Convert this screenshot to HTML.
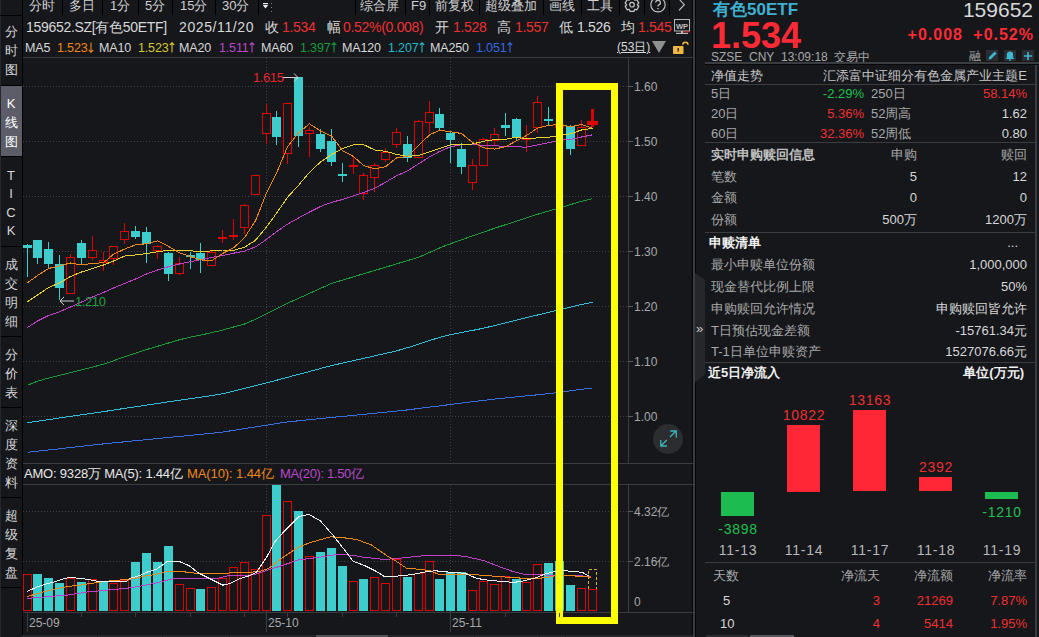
<!DOCTYPE html>
<html><head><meta charset="utf-8">
<style>
*{margin:0;padding:0;box-sizing:border-box}
html,body{width:1039px;height:637px;overflow:hidden;background:#15171b;font-family:"Liberation Sans",sans-serif;color:#d8d8d8}
.a{position:absolute;white-space:nowrap;line-height:1}
.hl{position:absolute;height:1px}
.vl{position:absolute;width:1px}
.t12{font-size:12px}.il{font-size:14px;letter-spacing:-0.3px}.ml{font-size:12.5px;letter-spacing:-0.15px}.tb{font-size:13px;color:#d0d0d0}.t13{font-size:13px}
.r{color:#f03030}
.g{color:#a8a8a8}
.sb{position:absolute;left:0;width:22px;text-align:center;font-size:13px;color:#d8d8d8;line-height:19px}
.rp{position:absolute;font-size:13px;line-height:1;white-space:nowrap}
</style></head><body>
<!-- top-left corner -->
<div class="a" style="left:0;top:0;width:1px;height:637px;background:#25272c"></div>
<div class="hl" style="left:0;top:15px;width:22px;background:#000"></div>
<div class="vl" style="left:22px;top:0;height:637px;background:#000"></div>
<!-- toolbar -->
<div class="a tb" style="left:29px;top:-1px">分时</div>
<div class="vl" style="left:62px;top:0;height:15px;background:#000"></div>
<div class="a tb" style="left:69px;top:-1px">多日</div>
<div class="vl" style="left:102px;top:0;height:15px;background:#000"></div>
<div class="a tb" style="left:110px;top:-1px">1分</div>
<div class="vl" style="left:138px;top:0;height:15px;background:#000"></div>
<div class="a tb" style="left:145px;top:-1px">5分</div>
<div class="vl" style="left:172px;top:0;height:15px;background:#000"></div>
<div class="a tb" style="left:180px;top:-1px">15分</div>
<div class="vl" style="left:215px;top:0;height:15px;background:#000"></div>
<div class="a tb" style="left:222px;top:-1px">30分</div>
<div class="vl" style="left:258px;top:0;height:15px;background:#000"></div>
<svg class="a" style="left:262px;top:0" width="12" height="14"><rect x="1" y="3" width="5" height="1.2" fill="#f0f0f0"/><path d="M0.8,5 H6.2 L3.5,8.5 Z" fill="#f0f0f0"/><rect x="9" y="3" width="1" height="1" fill="#808080"/><rect x="9" y="7" width="1" height="1" fill="#808080"/><rect x="9" y="11" width="1" height="1" fill="#808080"/></svg>
<div class="vl" style="left:355px;top:0;height:15px;background:#000"></div>
<div class="a tb" style="left:360px;top:-1px">综合屏</div>
<div class="vl" style="left:405px;top:0;height:15px;background:#000"></div>
<div class="a tb" style="left:411px;top:-1px">F9</div>
<div class="vl" style="left:429px;top:0;height:15px;background:#000"></div>
<div class="a tb" style="left:435px;top:-1px">前复权</div>
<div class="vl" style="left:479px;top:0;height:15px;background:#000"></div>
<div class="a tb" style="left:485px;top:-1px">超级叠加</div>
<div class="vl" style="left:543px;top:0;height:15px;background:#000"></div>
<div class="a tb" style="left:549px;top:-1px">画线</div>
<div class="vl" style="left:581px;top:0;height:15px;background:#000"></div>
<div class="a tb" style="left:587px;top:-1px">工具</div>
<div class="vl" style="left:619px;top:0;height:15px;background:#000"></div>
<svg class="a" style="left:624px;top:-1px" width="16" height="16"><path d="M5.37,1.10 L5.93,-0.99 L10.07,-0.99 L10.63,1.10 L10.67,1.12 L12.76,0.56 L14.83,4.15 L13.30,5.68 L13.30,5.72 L14.83,7.25 L12.76,10.84 L10.67,10.28 L10.63,10.30 L10.07,12.39 L5.93,12.39 L5.37,10.30 L5.33,10.28 L3.24,10.84 L1.17,7.25 L2.70,5.72 L2.70,5.68 L1.17,4.15 L3.24,0.56 L5.33,1.12 Z" fill="none" stroke="#c8c8c8" stroke-width="1.2" stroke-linejoin="round"/><circle cx="8" cy="5.7" r="2.3" fill="none" stroke="#c8c8c8" stroke-width="1.2"/></svg>
<div class="vl" style="left:644px;top:0;height:15px;background:#000"></div>
<svg class="a" style="left:649px;top:-3px" width="18" height="18"><circle cx="9" cy="7.7" r="7.2" fill="none" stroke="#c8c8c8" stroke-width="1.1"/><path d="M6.6,5.6 A2.4,2.4 0 1 1 9.6,8 Q9,8.4 9,9.6" fill="none" stroke="#c8c8c8" stroke-width="1.2"/><rect x="8.4" y="11" width="1.3" height="1.3" fill="#c8c8c8"/></svg>
<div class="vl" style="left:669px;top:0;height:15px;background:#000"></div>
<svg class="a" style="left:676px;top:-2px" width="12" height="14"><polyline points="3,1 8.3,6.7 3,12.3" fill="none" stroke="#c8c8c8" stroke-width="1.1"/></svg>
<div class="vl" style="left:692px;top:0;height:637px;background:#050607;width:1px"></div><div class="vl" style="left:693px;top:0;height:637px;background:#3a3c40;width:2px"></div>
<div class="vl" style="left:695px;top:0;height:637px;background:#050607;width:1px"></div>

<!-- sidebar -->
<div class="sb" style="top:22px">分<br>时<br>图</div>
<div class="hl" style="left:1px;top:85px;width:21px;background:#000"></div>
<div class="a" style="left:1px;top:86px;width:21px;height:70px;background:#5c5d68"></div>
<div class="sb" style="top:94px;color:#fff">K<br>线<br>图</div>
<div class="hl" style="left:1px;top:156px;width:21px;background:#000"></div>
<div class="sb" style="top:167px;line-height:18.3px">T<br>I<br>C<br>K</div>
<div class="hl" style="left:1px;top:246px;width:21px;background:#000"></div>
<div class="sb" style="top:255px">成<br>交<br>明<br>细</div>
<div class="hl" style="left:1px;top:336px;width:21px;background:#000"></div>
<div class="sb" style="top:345px">分<br>价<br>表</div>
<div class="hl" style="left:1px;top:407px;width:21px;background:#000"></div>
<div class="sb" style="top:416px">深<br>度<br>资<br>料</div>
<div class="hl" style="left:1px;top:497px;width:21px;background:#000"></div>
<div class="sb" style="top:506px">超<br>级<br>复<br>盘</div>
<div class="hl" style="left:1px;top:587px;width:21px;background:#000"></div>

<!-- info line -->
<div class="a il" style="left:26px;top:20px">159652.SZ[有色50ETF]</div>
<div class="a il" style="left:179px;top:20px;letter-spacing:0.6px">2025/11/20</div>
<div class="a il" style="left:265px;top:20px">收</div><div class="a il r" style="left:282px;top:20px">1.534</div>
<div class="a il" style="left:327px;top:20px">幅</div><div class="a il r" style="left:343px;top:20px">0.52%(0.008)</div>
<div class="a il" style="left:435px;top:20px">开</div><div class="a il r" style="left:453px;top:20px">1.528</div>
<div class="a il" style="left:497px;top:20px">高</div><div class="a il r" style="left:515px;top:20px">1.557</div>
<div class="a il" style="left:559px;top:20px">低</div><div class="a il" style="left:577px;top:20px">1.526</div>
<div class="a il" style="left:621px;top:20px">均</div><div class="a il r" style="left:638px;top:20px">1.545</div>
<!-- WP icon -->
<svg class="a" style="left:673px;top:18px" width="18" height="17"><rect x="1.5" y="1.5" width="15" height="11.5" fill="#15171b" stroke="#b8b8b8" stroke-width="1"/><text x="9" y="10.5" font-size="7.5" font-weight="bold" fill="#c0c0c0" text-anchor="middle" font-family="Liberation Sans">WP</text><rect x="8" y="13" width="2" height="2" fill="#b8b8b8"/><rect x="3" y="14.8" width="12" height="1.2" fill="#b8b8b8"/><rect x="10.5" y="13.2" width="6" height="1.2" fill="#e02020" opacity="0.8"/></svg>
<!-- MA line -->
<div class="a ml" style="left:25px;top:42px">MA5</div>
<div class="a ml" style="left:57px;top:42px;color:#f08818">1.523<svg width="6" height="11" style="display:inline-block;vertical-align:-1px;margin-left:0px"><path d="M3,0.5 V10 M0.8,8 L3,10.3 L5.2,8" stroke="currentColor" stroke-width="1.1" fill="none"/></svg></div>
<div class="a ml" style="left:99px;top:42px">MA10</div>
<div class="a ml" style="left:138px;top:42px;color:#d8c830">1.523<svg width="6" height="11" style="display:inline-block;vertical-align:-1px;margin-left:0px"><path d="M3,10.5 V1 M0.8,3 L3,0.7 L5.2,3" stroke="currentColor" stroke-width="1.1" fill="none"/></svg></div>
<div class="a ml" style="left:179px;top:42px">MA20</div>
<div class="a ml" style="left:219px;top:42px;color:#b848c8">1.511<svg width="6" height="11" style="display:inline-block;vertical-align:-1px;margin-left:0px"><path d="M3,10.5 V1 M0.8,3 L3,0.7 L5.2,3" stroke="currentColor" stroke-width="1.1" fill="none"/></svg></div>
<div class="a ml" style="left:261px;top:42px">MA60</div>
<div class="a ml" style="left:300px;top:42px;color:#1a9a3a">1.397<svg width="6" height="11" style="display:inline-block;vertical-align:-1px;margin-left:0px"><path d="M3,10.5 V1 M0.8,3 L3,0.7 L5.2,3" stroke="currentColor" stroke-width="1.1" fill="none"/></svg></div>
<div class="a ml" style="left:342px;top:42px">MA120</div>
<div class="a ml" style="left:388px;top:42px;color:#28b8c8">1.207<svg width="6" height="11" style="display:inline-block;vertical-align:-1px;margin-left:0px"><path d="M3,10.5 V1 M0.8,3 L3,0.7 L5.2,3" stroke="currentColor" stroke-width="1.1" fill="none"/></svg></div>
<div class="a ml" style="left:430px;top:42px">MA250</div>
<div class="a ml" style="left:476px;top:42px;color:#3868e0">1.051<svg width="6" height="11" style="display:inline-block;vertical-align:-1px;margin-left:0px"><path d="M3,10.5 V1 M0.8,3 L3,0.7 L5.2,3" stroke="currentColor" stroke-width="1.1" fill="none"/></svg></div>
<div class="a t12" style="left:617px;top:41px;color:#d8d8d8;text-decoration:underline">(53日)</div>
<div class="a" style="left:652px;top:41px;width:0;height:0;border-left:7px solid transparent;border-right:7px solid transparent;border-top:12px solid #909090"></div>
<svg class="a" style="left:672px;top:40px" width="18" height="16"><rect x="1" y="6" width="10.5" height="8" rx="0.8" fill="#f0b840"/><rect x="5.5" y="8" width="1.5" height="3.5" fill="#3a3020"/><path d="M10.8,4.8 A2.6,2.6 0 0 1 16,4.8" fill="none" stroke="#f0b840" stroke-width="1.5"/></svg>

<!-- chart frame lines -->
<div class="hl" style="left:23px;top:57px;width:670px;background:#3a3c40"></div>
<div class="vl" style="left:628px;top:57px;height:406px;background:#3a3c40"></div><div class="vl" style="left:628px;top:484px;height:129px;background:#3a3c40"></div>
<div class="hl" style="left:23px;top:463px;width:670px;background:#3a3c40"></div>
<div class="hl" style="left:23px;top:484px;width:670px;background:#3a3c40"></div>
<div class="hl" style="left:23px;top:612px;width:670px;background:#3a3c40"></div>

<svg width="1039" height="637" style="position:absolute;left:0;top:0"><line x1="23" y1="86.5" x2="628" y2="86.5" stroke="#404246" stroke-width="1" stroke-dasharray="1,2"/><line x1="628" y1="86.5" x2="633" y2="86.5" stroke="#5a5c60" stroke-width="1"/><line x1="23" y1="141.5" x2="628" y2="141.5" stroke="#404246" stroke-width="1" stroke-dasharray="1,2"/><line x1="628" y1="141.5" x2="633" y2="141.5" stroke="#5a5c60" stroke-width="1"/><line x1="23" y1="196.5" x2="628" y2="196.5" stroke="#404246" stroke-width="1" stroke-dasharray="1,2"/><line x1="628" y1="196.5" x2="633" y2="196.5" stroke="#5a5c60" stroke-width="1"/><line x1="23" y1="251.5" x2="628" y2="251.5" stroke="#404246" stroke-width="1" stroke-dasharray="1,2"/><line x1="628" y1="251.5" x2="633" y2="251.5" stroke="#5a5c60" stroke-width="1"/><line x1="23" y1="306.5" x2="628" y2="306.5" stroke="#404246" stroke-width="1" stroke-dasharray="1,2"/><line x1="628" y1="306.5" x2="633" y2="306.5" stroke="#5a5c60" stroke-width="1"/><line x1="23" y1="361.5" x2="628" y2="361.5" stroke="#404246" stroke-width="1" stroke-dasharray="1,2"/><line x1="628" y1="361.5" x2="633" y2="361.5" stroke="#5a5c60" stroke-width="1"/><line x1="23" y1="416.5" x2="628" y2="416.5" stroke="#404246" stroke-width="1" stroke-dasharray="1,2"/><line x1="628" y1="416.5" x2="633" y2="416.5" stroke="#5a5c60" stroke-width="1"/><line x1="266.5" y1="58" x2="266.5" y2="463" stroke="#404246" stroke-width="1" stroke-dasharray="1,2"/><line x1="266.5" y1="485" x2="266.5" y2="612" stroke="#404246" stroke-width="1" stroke-dasharray="1,2"/><line x1="450.5" y1="58" x2="450.5" y2="463" stroke="#404246" stroke-width="1" stroke-dasharray="1,2"/><line x1="450.5" y1="485" x2="450.5" y2="612" stroke="#404246" stroke-width="1" stroke-dasharray="1,2"/><line x1="23" y1="511.5" x2="628" y2="511.5" stroke="#404246" stroke-width="1" stroke-dasharray="1,2"/><line x1="628" y1="511.5" x2="633" y2="511.5" stroke="#5a5c60" stroke-width="1"/><line x1="23" y1="561.5" x2="628" y2="561.5" stroke="#404246" stroke-width="1" stroke-dasharray="1,2"/><line x1="628" y1="561.5" x2="633" y2="561.5" stroke="#5a5c60" stroke-width="1"/><polyline points="27.5,452.3 37.5,451.2 48.5,450.0 59.5,448.8 70.5,447.5 81.5,446.3 92.5,445.1 103.5,443.9 113.5,442.9 124.5,441.8 135.5,440.7 146.5,439.7 157.5,438.6 168.5,437.5 179.5,436.4 190.5,435.4 200.5,434.4 211.5,433.3 222.5,432.1 233.5,430.4 244.5,428.6 255.5,426.9 266.5,425.2 276.5,423.6 287.5,421.9 298.5,420.8 309.5,419.7 320.5,418.6 331.5,417.5 342.5,416.4 353.5,415.4 363.5,414.4 374.5,413.3 385.5,412.2 396.5,411.1 407.5,409.9 418.5,408.5 429.5,407.1 439.5,405.9 450.5,404.5 461.5,403.1 472.5,401.7 483.5,400.4 494.5,399.1 505.5,398.0 516.5,396.9 526.5,395.9 537.5,394.8 548.5,393.7 559.5,392.4 570.5,390.8 581.5,389.3 592.5,387.9" fill="none" stroke="#3a6ee0" stroke-width="1" stroke-linejoin="round" shape-rendering="crispEdges"/><polyline points="27.5,422.6 37.5,421.2 48.5,419.6 59.5,418.0 70.5,416.4 81.5,414.8 92.5,413.2 103.5,411.6 113.5,410.1 124.5,408.4 135.5,406.8 146.5,405.1 157.5,403.5 168.5,401.8 179.5,400.3 190.5,398.7 200.5,397.2 211.5,395.6 222.5,393.8 233.5,391.1 244.5,388.4 255.5,385.7 266.5,382.9 276.5,380.3 287.5,377.3 298.5,374.4 309.5,371.5 320.5,368.5 331.5,365.6 342.5,363.1 353.5,360.6 363.5,358.4 374.5,355.9 385.5,353.4 396.5,350.9 407.5,347.7 418.5,344.2 429.5,340.6 439.5,337.4 450.5,334.7 461.5,332.5 472.5,330.4 483.5,328.2 494.5,325.6 505.5,322.9 516.5,320.1 526.5,317.6 537.5,315.0 548.5,312.4 559.5,309.7 570.5,307.1 581.5,304.5 592.5,302.2" fill="none" stroke="#30c0d8" stroke-width="1" stroke-linejoin="round" shape-rendering="crispEdges"/><polyline points="27.5,385.2 37.5,381.2 48.5,378.1 59.5,375.3 70.5,372.6 81.5,369.8 92.5,367.1 103.5,364.1 113.5,360.7 124.5,356.9 135.5,353.1 146.5,349.6 157.5,346.3 168.5,343.0 179.5,339.7 190.5,337.2 200.5,335.1 211.5,332.7 222.5,330.1 233.5,327.0 244.5,324.0 255.5,319.3 266.5,313.8 276.5,308.8 287.5,303.3 298.5,298.3 309.5,293.4 320.5,288.4 331.5,283.5 342.5,280.1 353.5,276.8 363.5,273.8 374.5,270.5 385.5,267.2 396.5,263.9 407.5,260.6 418.5,257.3 429.5,252.5 439.5,248.0 450.5,243.7 461.5,239.8 472.5,235.9 483.5,232.1 494.5,228.3 505.5,224.7 516.5,221.1 526.5,217.8 537.5,214.3 548.5,211.1 559.5,207.9 570.5,204.6 581.5,201.4 592.5,198.5" fill="none" stroke="#1a9a3a" stroke-width="1" stroke-linejoin="round" shape-rendering="crispEdges"/><rect x="27" y="244" width="1" height="33" fill="#3ecdcd"/><rect x="23" y="245" width="9" height="3" fill="#3ecdcd"/><rect x="37" y="240" width="1" height="24" fill="#3ecdcd"/><rect x="33" y="240" width="9" height="18" fill="#3ecdcd"/><rect x="48" y="242" width="1" height="27" fill="#3ecdcd"/><rect x="44" y="249" width="9" height="15" fill="#3ecdcd"/><rect x="59" y="255" width="1" height="45" fill="#3ecdcd"/><rect x="55" y="264" width="9" height="24" fill="#3ecdcd"/><rect x="70" y="254" width="1" height="3" fill="#e00000"/><rect x="66.5" y="257.5" width="8" height="36" fill="#15171b" stroke="#e00000" stroke-width="1"/><rect x="81" y="240" width="1" height="25" fill="#3ecdcd"/><rect x="77" y="243" width="9" height="15" fill="#3ecdcd"/><rect x="92" y="236" width="1" height="14" fill="#e00000"/><rect x="92" y="258" width="1" height="2" fill="#e00000"/><rect x="88.5" y="250.5" width="8" height="7" fill="#15171b" stroke="#e00000" stroke-width="1"/><rect x="103" y="252" width="1" height="8" fill="#e00000"/><rect x="103" y="263" width="1" height="8" fill="#e00000"/><rect x="99.5" y="260.5" width="8" height="2" fill="#15171b" stroke="#e00000" stroke-width="1"/><rect x="113" y="259" width="1" height="6" fill="#e00000"/><rect x="109.5" y="246.5" width="8" height="12" fill="#15171b" stroke="#e00000" stroke-width="1"/><rect x="124" y="223" width="1" height="8" fill="#e00000"/><rect x="124" y="240" width="1" height="4" fill="#e00000"/><rect x="120.5" y="231.5" width="8" height="8" fill="#15171b" stroke="#e00000" stroke-width="1"/><rect x="135" y="226" width="1" height="13" fill="#3ecdcd"/><rect x="131" y="231" width="9" height="6" fill="#3ecdcd"/><rect x="146" y="227" width="1" height="36" fill="#3ecdcd"/><rect x="142" y="232" width="9" height="12" fill="#3ecdcd"/><rect x="157" y="245" width="1" height="1" fill="#e00000"/><rect x="157" y="251" width="1" height="8" fill="#e00000"/><rect x="153.5" y="246.5" width="8" height="4" fill="#15171b" stroke="#e00000" stroke-width="1"/><rect x="168" y="252" width="1" height="29" fill="#3ecdcd"/><rect x="164" y="253" width="9" height="21" fill="#3ecdcd"/><rect x="179" y="257" width="1" height="6" fill="#e00000"/><rect x="179" y="274" width="1" height="1" fill="#e00000"/><rect x="175.5" y="263.5" width="8" height="10" fill="#15171b" stroke="#e00000" stroke-width="1"/><rect x="190" y="252" width="1" height="17" fill="#3ecdcd"/><rect x="186" y="255" width="9" height="2" fill="#3ecdcd"/><rect x="200" y="243" width="1" height="30" fill="#3ecdcd"/><rect x="196" y="253" width="9" height="7" fill="#3ecdcd"/><rect x="211" y="250" width="1" height="2" fill="#e00000"/><rect x="207.5" y="252.5" width="8" height="13" fill="#15171b" stroke="#e00000" stroke-width="1"/><rect x="222" y="230" width="1" height="7" fill="#e00000"/><rect x="222" y="239" width="1" height="4" fill="#e00000"/><rect x="218.5" y="237.5" width="8" height="1" fill="#15171b" stroke="#e00000" stroke-width="1"/><rect x="233" y="219" width="1" height="16" fill="#e00000"/><rect x="233" y="237" width="1" height="3" fill="#e00000"/><rect x="229.5" y="235.5" width="8" height="1" fill="#15171b" stroke="#e00000" stroke-width="1"/><rect x="244" y="204" width="1" height="1" fill="#e00000"/><rect x="244" y="228" width="1" height="6" fill="#e00000"/><rect x="240.5" y="205.5" width="8" height="22" fill="#15171b" stroke="#e00000" stroke-width="1"/><rect x="251.5" y="175.5" width="8" height="19" fill="#15171b" stroke="#e00000" stroke-width="1"/><rect x="266" y="104" width="1" height="9" fill="#e00000"/><rect x="266" y="134" width="1" height="10" fill="#e00000"/><rect x="262.5" y="113.5" width="8" height="20" fill="#15171b" stroke="#e00000" stroke-width="1"/><rect x="276" y="111" width="1" height="34" fill="#3ecdcd"/><rect x="272" y="117" width="9" height="20" fill="#3ecdcd"/><rect x="287" y="154" width="1" height="10" fill="#e00000"/><rect x="283.5" y="103.5" width="8" height="50" fill="#15171b" stroke="#e00000" stroke-width="1"/><rect x="298" y="77" width="1" height="70" fill="#3ecdcd"/><rect x="294" y="77" width="9" height="59" fill="#3ecdcd"/><rect x="309" y="127" width="1" height="3" fill="#e00000"/><rect x="309" y="134" width="1" height="23" fill="#e00000"/><rect x="305.5" y="130.5" width="8" height="3" fill="#15171b" stroke="#e00000" stroke-width="1"/><rect x="320" y="129" width="1" height="23" fill="#3ecdcd"/><rect x="316" y="134" width="9" height="15" fill="#3ecdcd"/><rect x="331" y="129" width="1" height="37" fill="#3ecdcd"/><rect x="327" y="141" width="9" height="21" fill="#3ecdcd"/><rect x="342" y="163" width="1" height="19" fill="#3ecdcd"/><rect x="338" y="174" width="9" height="2" fill="#3ecdcd"/><rect x="353" y="157" width="1" height="8" fill="#e00000"/><rect x="353" y="167" width="1" height="7" fill="#e00000"/><rect x="349.5" y="165.5" width="8" height="1" fill="#15171b" stroke="#e00000" stroke-width="1"/><rect x="363" y="173" width="1" height="2" fill="#e00000"/><rect x="363" y="194" width="1" height="6" fill="#e00000"/><rect x="359.5" y="175.5" width="8" height="18" fill="#15171b" stroke="#e00000" stroke-width="1"/><rect x="374" y="163" width="1" height="2" fill="#e00000"/><rect x="374" y="178" width="1" height="14" fill="#e00000"/><rect x="370.5" y="165.5" width="8" height="12" fill="#15171b" stroke="#e00000" stroke-width="1"/><rect x="385" y="148" width="1" height="4" fill="#e00000"/><rect x="385" y="160" width="1" height="2" fill="#e00000"/><rect x="381.5" y="152.5" width="8" height="7" fill="#15171b" stroke="#e00000" stroke-width="1"/><rect x="396" y="128" width="1" height="4" fill="#e00000"/><rect x="396" y="145" width="1" height="3" fill="#e00000"/><rect x="392.5" y="132.5" width="8" height="12" fill="#15171b" stroke="#e00000" stroke-width="1"/><rect x="407" y="136" width="1" height="26" fill="#3ecdcd"/><rect x="403" y="144" width="9" height="14" fill="#3ecdcd"/><rect x="418" y="120" width="1" height="1" fill="#e00000"/><rect x="414.5" y="121.5" width="8" height="36" fill="#15171b" stroke="#e00000" stroke-width="1"/><rect x="429" y="101" width="1" height="11" fill="#e00000"/><rect x="429" y="123" width="1" height="10" fill="#e00000"/><rect x="425.5" y="112.5" width="8" height="10" fill="#15171b" stroke="#e00000" stroke-width="1"/><rect x="439" y="108" width="1" height="22" fill="#3ecdcd"/><rect x="435" y="114" width="9" height="14" fill="#3ecdcd"/><rect x="450" y="131" width="1" height="32" fill="#3ecdcd"/><rect x="446" y="133" width="9" height="7" fill="#3ecdcd"/><rect x="461" y="143" width="1" height="31" fill="#3ecdcd"/><rect x="457" y="149" width="9" height="18" fill="#3ecdcd"/><rect x="472" y="159" width="1" height="6" fill="#e00000"/><rect x="472" y="183" width="1" height="7" fill="#e00000"/><rect x="468.5" y="165.5" width="8" height="17" fill="#15171b" stroke="#e00000" stroke-width="1"/><rect x="483" y="138" width="1" height="1" fill="#e00000"/><rect x="479.5" y="139.5" width="8" height="26" fill="#15171b" stroke="#e00000" stroke-width="1"/><rect x="494" y="128" width="1" height="6" fill="#e00000"/><rect x="494" y="141" width="1" height="4" fill="#e00000"/><rect x="490.5" y="134.5" width="8" height="6" fill="#15171b" stroke="#e00000" stroke-width="1"/><rect x="505" y="113" width="1" height="23" fill="#3ecdcd"/><rect x="501" y="125" width="9" height="3" fill="#3ecdcd"/><rect x="516" y="118" width="1" height="23" fill="#3ecdcd"/><rect x="512" y="119" width="9" height="19" fill="#3ecdcd"/><rect x="526" y="125" width="1" height="13" fill="#e00000"/><rect x="526" y="140" width="1" height="12" fill="#e00000"/><rect x="522.5" y="138.5" width="8" height="1" fill="#15171b" stroke="#e00000" stroke-width="1"/><rect x="537" y="96" width="1" height="6" fill="#e00000"/><rect x="537" y="128" width="1" height="5" fill="#e00000"/><rect x="533.5" y="102.5" width="8" height="25" fill="#15171b" stroke="#e00000" stroke-width="1"/><rect x="548" y="107" width="1" height="18" fill="#3ecdcd"/><rect x="544" y="119" width="9" height="2" fill="#3ecdcd"/><rect x="559" y="120" width="1" height="4" fill="#e00000"/><rect x="559" y="128" width="1" height="2" fill="#e00000"/><rect x="555.5" y="124.5" width="8" height="3" fill="#15171b" stroke="#e00000" stroke-width="1"/><rect x="570" y="125" width="1" height="30" fill="#3ecdcd"/><rect x="566" y="126" width="9" height="23" fill="#3ecdcd"/><rect x="581" y="120" width="1" height="7" fill="#e00000"/><rect x="577.5" y="127.5" width="8" height="18" fill="#15171b" stroke="#e00000" stroke-width="1"/><rect x="591" y="109" width="3" height="18" fill="#e00000"/><rect x="587" y="121" width="11" height="4" fill="#e00000"/><polyline points="27.5,327.5 37.5,321.0 48.5,315.5 59.5,311.8 70.5,307.0 81.5,302.0 92.5,297.0 103.5,292.5 113.5,288.0 124.5,283.5 135.5,279.0 146.5,274.0 157.5,270.0 168.5,266.7 179.5,264.0 190.5,261.7 200.5,259.8 211.5,257.5 222.5,255.5 233.5,253.2 244.5,251.1 255.5,246.9 266.5,239.4 276.5,231.8 287.5,224.1 298.5,218.0 309.5,212.0 320.5,206.5 331.5,202.3 342.5,199.5 353.5,195.9 363.5,192.5 374.5,188.4 385.5,182.3 396.5,175.8 407.5,170.9 418.5,163.9 429.5,156.9 439.5,151.5 450.5,146.7 461.5,144.8 472.5,144.3 483.5,145.6 494.5,145.5 505.5,146.7 516.5,146.8 526.5,147.2 537.5,144.9 548.5,142.8 559.5,140.2 570.5,139.4 581.5,137.0 592.5,134.8" fill="none" stroke="#c040c8" stroke-width="1" stroke-linejoin="round" shape-rendering="crispEdges"/><polyline points="27.5,301.6 37.5,295.0 48.5,287.5 59.5,283.0 70.5,276.5 81.5,272.0 92.5,268.5 103.5,265.0 113.5,261.0 124.5,256.1 135.5,255.0 146.5,253.6 157.5,251.8 168.5,250.3 179.5,251.0 190.5,250.8 200.5,251.7 211.5,250.9 222.5,250.0 233.5,250.4 244.5,247.2 255.5,240.3 266.5,227.0 276.5,213.3 287.5,197.3 298.5,185.3 309.5,172.3 320.5,162.0 331.5,154.6 342.5,148.7 353.5,144.7 363.5,144.6 374.5,149.9 385.5,151.3 396.5,154.3 407.5,156.4 418.5,155.5 429.5,151.8 439.5,148.4 450.5,144.8 461.5,145.0 472.5,144.0 483.5,141.3 494.5,139.6 505.5,139.2 516.5,137.2 526.5,138.9 537.5,137.9 548.5,137.2 559.5,135.6 570.5,133.8 581.5,130.0 592.5,128.2" fill="none" stroke="#e8d030" stroke-width="1" stroke-linejoin="round" shape-rendering="crispEdges"/><polyline points="27.5,282.8 37.5,275.5 48.5,268.5 59.5,265.8 70.5,263.0 81.5,265.0 92.5,263.4 103.5,262.7 113.5,254.3 124.5,249.1 135.5,244.9 146.5,243.7 157.5,240.9 168.5,246.4 179.5,252.8 190.5,256.7 200.5,259.8 211.5,260.9 222.5,253.5 233.5,247.9 244.5,237.7 255.5,220.8 266.5,193.1 276.5,173.1 287.5,146.7 298.5,132.9 309.5,123.8 320.5,131.0 331.5,136.0 342.5,150.6 353.5,156.5 363.5,165.5 374.5,168.8 385.5,166.7 396.5,157.9 407.5,156.4 418.5,145.6 429.5,134.9 439.5,130.2 450.5,131.7 461.5,133.5 472.5,142.4 483.5,147.8 494.5,149.1 505.5,146.7 516.5,140.9 526.5,135.5 537.5,128.1 548.5,125.3 559.5,124.6 570.5,126.7 581.5,124.5 592.5,128.3" fill="none" stroke="#f08818" stroke-width="1" stroke-linejoin="round" shape-rendering="crispEdges"/><text x="253" y="81.5" fill="#e8262e" font-size="13" letter-spacing="-0.4" font-family="Liberation Sans">1.615</text><line x1="283" y1="77.5" x2="298" y2="77.5" stroke="#d0d0d0" stroke-width="1"/><polyline points="294,73.5 298,77.5 294,81.5" fill="none" stroke="#d0d0d0" stroke-width="1"/><line x1="60" y1="301" x2="74" y2="301" stroke="#d0d0d0" stroke-width="1"/><polyline points="64,297 60,301 64,305" fill="none" stroke="#d0d0d0" stroke-width="1"/><text x="75" y="306" fill="#20a040" font-size="13" letter-spacing="-0.4" font-family="Liberation Sans">1.210</text><rect x="23.5" y="574.5" width="8" height="36" fill="#15171b" stroke="#e00000" stroke-width="1"/><rect x="33" y="574" width="9" height="37" fill="#3ecdcd"/><rect x="44" y="578" width="9" height="33" fill="#3ecdcd"/><rect x="55" y="583" width="9" height="28" fill="#3ecdcd"/><rect x="66.5" y="578.5" width="8" height="32" fill="#15171b" stroke="#e00000" stroke-width="1"/><rect x="77" y="582" width="9" height="29" fill="#3ecdcd"/><rect x="88.5" y="579.5" width="8" height="31" fill="#15171b" stroke="#e00000" stroke-width="1"/><rect x="99" y="582" width="9" height="29" fill="#3ecdcd"/><rect x="109.5" y="583.5" width="8" height="27" fill="#15171b" stroke="#e00000" stroke-width="1"/><rect x="120.5" y="580.5" width="8" height="30" fill="#15171b" stroke="#e00000" stroke-width="1"/><rect x="131" y="562" width="9" height="49" fill="#3ecdcd"/><rect x="142" y="553" width="9" height="58" fill="#3ecdcd"/><rect x="153" y="562" width="9" height="49" fill="#3ecdcd"/><rect x="164" y="546" width="9" height="65" fill="#3ecdcd"/><rect x="175.5" y="584.5" width="8" height="26" fill="#15171b" stroke="#e00000" stroke-width="1"/><rect x="186.5" y="588.5" width="8" height="22" fill="#15171b" stroke="#e00000" stroke-width="1"/><rect x="196" y="589" width="9" height="22" fill="#3ecdcd"/><rect x="207.5" y="587.5" width="8" height="23" fill="#15171b" stroke="#e00000" stroke-width="1"/><rect x="218.5" y="578.5" width="8" height="32" fill="#15171b" stroke="#e00000" stroke-width="1"/><rect x="229.5" y="567.5" width="8" height="43" fill="#15171b" stroke="#e00000" stroke-width="1"/><rect x="240.5" y="562.5" width="8" height="48" fill="#15171b" stroke="#e00000" stroke-width="1"/><rect x="251.5" y="569.5" width="8" height="41" fill="#15171b" stroke="#e00000" stroke-width="1"/><rect x="262.5" y="515.5" width="8" height="95" fill="#15171b" stroke="#e00000" stroke-width="1"/><rect x="272" y="485" width="9" height="126" fill="#3ecdcd"/><rect x="283.5" y="501.5" width="8" height="109" fill="#15171b" stroke="#e00000" stroke-width="1"/><rect x="294" y="511" width="9" height="100" fill="#3ecdcd"/><rect x="305.5" y="556.5" width="8" height="54" fill="#15171b" stroke="#e00000" stroke-width="1"/><rect x="316" y="552" width="9" height="59" fill="#3ecdcd"/><rect x="327" y="548" width="9" height="63" fill="#3ecdcd"/><rect x="338" y="566" width="9" height="45" fill="#3ecdcd"/><rect x="349.5" y="581.5" width="8" height="29" fill="#15171b" stroke="#e00000" stroke-width="1"/><rect x="359" y="579" width="9" height="32" fill="#3ecdcd"/><rect x="370.5" y="577.5" width="8" height="33" fill="#15171b" stroke="#e00000" stroke-width="1"/><rect x="381.5" y="583.5" width="8" height="27" fill="#15171b" stroke="#e00000" stroke-width="1"/><rect x="392.5" y="559.5" width="8" height="51" fill="#15171b" stroke="#e00000" stroke-width="1"/><rect x="403" y="577" width="9" height="34" fill="#3ecdcd"/><rect x="414.5" y="573.5" width="8" height="37" fill="#15171b" stroke="#e00000" stroke-width="1"/><rect x="425.5" y="561.5" width="8" height="49" fill="#15171b" stroke="#e00000" stroke-width="1"/><rect x="435" y="579" width="9" height="32" fill="#3ecdcd"/><rect x="446" y="572" width="9" height="39" fill="#3ecdcd"/><rect x="457" y="572" width="9" height="39" fill="#3ecdcd"/><rect x="468.5" y="590.5" width="8" height="20" fill="#15171b" stroke="#e00000" stroke-width="1"/><rect x="479.5" y="581.5" width="8" height="29" fill="#15171b" stroke="#e00000" stroke-width="1"/><rect x="490.5" y="584.5" width="8" height="26" fill="#15171b" stroke="#e00000" stroke-width="1"/><rect x="501.5" y="576.5" width="8" height="34" fill="#15171b" stroke="#e00000" stroke-width="1"/><rect x="512" y="579" width="9" height="32" fill="#3ecdcd"/><rect x="522.5" y="582.5" width="8" height="28" fill="#15171b" stroke="#e00000" stroke-width="1"/><rect x="533.5" y="564.5" width="8" height="46" fill="#15171b" stroke="#e00000" stroke-width="1"/><rect x="544" y="563" width="9" height="48" fill="#3ecdcd"/><rect x="555" y="561" width="9" height="50" fill="#3ecdcd"/><rect x="566" y="585" width="9" height="26" fill="#3ecdcd"/><rect x="577.5" y="588.5" width="8" height="22" fill="#15171b" stroke="#e00000" stroke-width="1"/><rect x="588.5" y="589.5" width="8" height="21" fill="#15171b" stroke="#e00000" stroke-width="1"/><path d="M588.5,589 V569.5 H596.5 V589" fill="none" stroke="#e8b020" stroke-width="1" stroke-dasharray="3,2"/><polyline points="26.9,598.4 42.6,597.1 67.7,595.0 86.5,592.1 107.8,590.0 126.6,588.3 139.2,586.4 155.0,583.3 172.7,578.9 217.8,578.3 227.9,575.8 249.2,575.2 256.3,573.9 272.6,568.6 285.2,564.5 297.7,560.1 316.6,557.6 335.4,554.8 354.2,555.1 358.8,556.6 383.9,559.5 400.2,558.2 415.3,556.6 427.8,555.3 455.4,555.3 466.3,556.6 483.9,560.7 500.2,567.0 512.7,571.4 525.3,574.5 542.8,574.9 557.9,575.4 570.2,575.4 591.5,576.4" fill="none" stroke="#c040c8" stroke-width="1" stroke-linejoin="round" shape-rendering="crispEdges"/><polyline points="26.9,596.5 36.3,594.0 45.0,591.5 56.4,588.7 67.7,586.4 80.2,585.2 91.5,583.3 105.3,581.4 117.9,580.2 129.2,579.2 139.2,577.7 142.5,576.4 155.0,574.5 167.6,571.4 184.0,571.4 186.5,572.4 197.8,573.3 227.9,573.3 230.4,572.4 249.2,572.4 260.0,571.4 268.9,568.2 282.7,557.6 297.7,547.5 310.3,542.5 330.4,536.9 340.0,537.3 356.3,539.4 371.4,545.0 387.7,556.3 395.2,560.7 406.5,568.2 421.6,569.5 430.3,570.8 439.1,574.5 458.0,574.5 466.3,573.9 481.4,575.2 497.7,576.4 510.2,577.4 524.0,578.3 537.8,578.3 545.4,577.7 555.4,575.8 567.7,575.8 582.7,576.2 591.5,577.4" fill="none" stroke="#f08818" stroke-width="1" stroke-linejoin="round" shape-rendering="crispEdges"/><polyline points="26.9,591.5 36.3,587.4 45.0,584.3 55.0,581.7 65.0,578.3 70.8,577.3 77.7,578.3 86.5,579.2 97.8,581.4 107.8,581.4 126.6,581.2 130.0,578.3 137.5,576.4 147.6,572.0 157.0,568.9 167.6,561.3 179.0,561.3 189.0,565.7 199.0,573.3 210.3,578.9 222.8,585.2 230.4,583.3 239.0,578.9 249.2,575.8 256.3,572.6 266.4,557.6 275.0,541.5 285.2,530.2 299.0,516.4 309.0,514.5 320.3,520.8 332.9,535.2 342.9,547.8 353.2,561.3 365.0,565.7 376.4,571.4 385.2,577.0 391.4,576.4 401.5,575.8 412.8,574.5 427.8,571.4 435.4,570.8 447.9,572.0 459.2,572.6 466.3,573.9 475.0,577.7 482.6,579.5 500.2,581.4 514.0,582.4 524.0,580.8 531.6,578.9 536.3,577.7 545.0,573.9 555.0,571.4 564.0,570.8 575.2,571.4 582.7,572.6 588.4,575.8" fill="none" stroke="#f0f0f0" stroke-width="1" stroke-linejoin="round" shape-rendering="crispEdges"/><rect x="559.5" y="86.5" width="55" height="534" fill="none" stroke="#ffff00" stroke-width="7"/></svg>

<!-- axis labels -->
<div class="a t12 g" style="left:634px;top:81px">1.60</div>
<div class="a t12 g" style="left:634px;top:136px">1.50</div>
<div class="a t12 g" style="left:634px;top:191px">1.40</div>
<div class="a t12 g" style="left:634px;top:246px">1.30</div>
<div class="a t12 g" style="left:634px;top:301px">1.20</div>
<div class="a t12 g" style="left:634px;top:356px">1.10</div>
<div class="a t12 g" style="left:634px;top:411px">1.00</div>
<div class="a t12 g" style="left:634px;top:506px">4.32亿</div>
<div class="a t12 g" style="left:634px;top:556px">2.16亿</div>
<div class="a t12 g" style="left:634px;top:596px">0</div>
<svg class="a" style="left:652px;top:423px" width="32" height="32"><circle cx="16" cy="16" r="15" fill="#2b2d31"/><g stroke="#3cb8b8" stroke-width="1.3" fill="none"><path d="M18,14 L24.3,7.8 M18.3,8 H24.3 V14.5"/><path d="M14.8,17 L8.6,23.2 M8.8,17 V23 H15"/></g></svg>

<!-- AMO header -->
<div class="a" style="left:24px;top:467px;font-size:13px;letter-spacing:-0.2px;color:#e8e8e8">AMO: 9328万 MA(5): 1.44亿</div>
<div class="a" style="left:187px;top:467px;font-size:13px;letter-spacing:-0.1px;color:#f08818">MA(10): 1.44亿</div>
<div class="a" style="left:280px;top:467px;font-size:13px;letter-spacing:-0.35px;color:#b848c8">MA(20): 1.50亿</div>
<!-- date axis -->
<div class="vl" style="left:27px;top:613px;height:19px;background:#3a3c40"></div>
<div class="a t12 g" style="left:29px;top:617px">25-09</div>
<div class="vl" style="left:266px;top:613px;height:19px;background:#3a3c40"></div>
<div class="a t12 g" style="left:268px;top:617px">25-10</div>
<div class="vl" style="left:450px;top:613px;height:19px;background:#3a3c40"></div>
<div class="a t12 g" style="left:452px;top:617px">25-11</div>
<div class="vl" style="left:81px;top:613px;height:4px;background:#3a3c40"></div>
<div class="vl" style="left:135px;top:613px;height:4px;background:#3a3c40"></div>
<div class="vl" style="left:190px;top:613px;height:4px;background:#3a3c40"></div>
<div class="vl" style="left:244px;top:613px;height:4px;background:#3a3c40"></div>
<div class="vl" style="left:287px;top:613px;height:4px;background:#3a3c40"></div>
<div class="vl" style="left:342px;top:613px;height:4px;background:#3a3c40"></div>
<div class="vl" style="left:396px;top:613px;height:4px;background:#3a3c40"></div>
<div class="vl" style="left:505px;top:613px;height:4px;background:#3a3c40"></div>
<div class="vl" style="left:559px;top:613px;height:4px;background:#3a3c40"></div>
<div class="a" style="left:22px;top:635px;width:75px;height:2px;background:#25272b"></div>
<div class="a" style="left:98px;top:635px;width:64px;height:2px;background:#25272b"></div>
<div class="a" style="left:163px;top:635px;width:66px;height:2px;background:#25272b"></div>
<div class="a" style="left:230px;top:635px;width:85px;height:2px;background:#25272b"></div>
<div class="a" style="left:316px;top:635px;width:72px;height:2px;background:#505258"></div>
<div class="a" style="left:389px;top:635px;width:85px;height:2px;background:#25272b"></div>
<div class="a" style="left:475px;top:635px;width:64px;height:2px;background:#25272b"></div>
<div class="a" style="left:540px;top:635px;width:25px;height:2px;background:#25272b"></div>
<div class="a" style="left:566px;top:635px;width:127px;height:2px;background:#25272b"></div>
<!-- right panel -->
<div class="a" style="left:713px;top:1px;font-size:17px;font-weight:bold;color:#40b0d0">有色50ETF</div>
<div class="a" style="left:711px;top:18px;font-size:36px;font-weight:bold;color:#ff2a35">1.534</div>
<div class="a t12" style="left:711px;top:51px;color:#a8a8a8">SZSE&nbsp;&nbsp;CNY&nbsp;&nbsp;13:09:18&nbsp;&nbsp;交易中</div>
<div class="a" style="right:6px;top:-1px;font-size:21px;color:#d8d8d8">159652</div>
<div class="a" style="right:76px;top:27px;font-size:16px;letter-spacing:1px;font-weight:bold;color:#ff2a35">+0.008</div><div class="a" style="right:5px;top:27px;font-size:16px;letter-spacing:1px;font-weight:bold;color:#ff2a35">+0.52%</div>
<div class="a" style="left:969px;top:50.5px;font-size:11.5px;color:#a8a8a8">融</div>
<div class="a" style="left:986px;top:50px;width:12px;height:11px;background:#2a2d33"></div>
<div class="a" style="left:1004px;top:50px;width:12px;height:11px;background:#2a2d33"></div>
<div class="a" style="left:1022px;top:50px;width:12px;height:11px;background:#2a2d33"></div>
<svg class="a" style="left:986px;top:50px" width="48" height="12"><path d="M2.5,9.5 L3.2,7 L8.8,1.6 L10.6,3.4 L5,8.9 Z" fill="#3cb8d0"/><path d="M19.5,9 H28.5 L27.2,7.6 V5 A2.7,3 0 0 0 20.8,5 V7.6 Z" fill="#3cb8d0"/><rect x="23.2" y="9.2" width="1.6" height="1.6" fill="#3cb8d0"/><path d="M42,2 V10 M38,6 H46" stroke="#3cb8d0" stroke-width="1.6"/></svg>
<div class="hl" style="left:705px;top:62px;width:334px;height:2px;background:#3a3c40"></div><div class="hl" style="left:705px;top:64px;width:334px;height:1px;background:#08090b"></div>
<div class="a" style="left:1035px;top:65px;width:2px;height:572px;background:#3a3c40"></div>

<div class="rp" style="left:711px;top:69px;color:#c8c8c8;font-size:13px">净值走势</div>
<div class="rp" style="right:12px;top:69px;color:#c8c8c8;font-size:13px">汇添富中证细分有色金属产业主题E</div>
<div class="hl" style="left:705px;top:84px;width:330px;background:#3a3c40"></div>
<div class="rp" style="left:711px;top:87px;color:#a8a8a8">5日</div>
<div class="rp" style="right:175px;top:87px;color:#20c050">-2.29%</div>
<div class="rp" style="left:871px;top:87px;color:#a8a8a8">250日</div>
<div class="rp" style="right:12px;top:87px;color:#f03030">58.14%</div>
<div class="rp" style="left:711px;top:107px;color:#a8a8a8">20日</div>
<div class="rp" style="right:175px;top:107px;color:#f03030">5.36%</div>
<div class="rp" style="left:871px;top:107px;color:#a8a8a8">52周高</div>
<div class="rp" style="right:12px;top:107px;color:#d8d8d8">1.62</div>
<div class="rp" style="left:711px;top:127px;color:#a8a8a8">60日</div>
<div class="rp" style="right:175px;top:127px;color:#f03030">32.36%</div>
<div class="rp" style="left:871px;top:127px;color:#a8a8a8">52周低</div>
<div class="rp" style="right:12px;top:127px;color:#d8d8d8">0.80</div>
<div class="hl" style="left:705px;top:142px;width:330px;background:#3a3c40"></div>

<div class="rp" style="left:711px;top:148px;color:#c0c0c0;font-weight:bold">实时申购赎回信息</div>
<div class="rp" style="right:122px;top:148px;color:#a8a8a8">申购</div>
<div class="rp" style="right:12px;top:148px;color:#a8a8a8">赎回</div>
<div class="rp" style="left:711px;top:170px;color:#a8a8a8">笔数</div>
<div class="rp" style="right:122px;top:170px;color:#d8d8d8">5</div>
<div class="rp" style="right:12px;top:170px;color:#d8d8d8">12</div>
<div class="rp" style="left:711px;top:191px;color:#a8a8a8">金额</div>
<div class="rp" style="right:122px;top:191px;color:#d8d8d8">0</div>
<div class="rp" style="right:12px;top:191px;color:#d8d8d8">0</div>
<div class="rp" style="left:711px;top:213px;color:#a8a8a8">份额</div>
<div class="rp" style="right:122px;top:213px;color:#d8d8d8">500万</div>
<div class="rp" style="right:12px;top:213px;color:#d8d8d8">1200万</div>
<div class="hl" style="left:705px;top:232px;width:330px;background:#3a3c40"></div>

<div class="rp" style="left:709px;top:236px;color:#f0f0f0;font-weight:bold;font-size:13px">申赎清单</div>
<div class="rp" style="right:21px;top:236px;color:#d8d8d8">...</div>
<div class="rp" style="left:711px;top:258px;color:#a8a8a8">最小申赎单位份额</div>
<div class="rp" style="right:12px;top:258px;color:#d8d8d8">1,000,000</div>
<div class="rp" style="left:711px;top:280px;color:#a8a8a8">现金替代比例上限</div>
<div class="rp" style="right:12px;top:280px;color:#d8d8d8">50%</div>
<div class="rp" style="left:711px;top:302px;color:#a8a8a8">申购赎回允许情况</div>
<div class="rp" style="right:12px;top:302px;color:#d8d8d8">申购赎回皆允许</div>
<div class="rp" style="left:711px;top:324px;color:#a8a8a8">T日预估现金差额</div>
<div class="rp" style="right:12px;top:324px;color:#d8d8d8">-15761.34元</div>
<div class="rp" style="left:711px;top:345px;color:#a8a8a8">T-1日单位申赎资产</div>
<div class="rp" style="right:12px;top:345px;color:#d8d8d8">1527076.66元</div>
<div class="hl" style="left:705px;top:362px;width:330px;background:#3a3c40"></div>
<svg class="a" style="left:694px;top:273px" width="12" height="110"><path d="M1,0 L11,7 L11,102 L1,109 Z" fill="#25272b"/><text x="5.5" y="60" font-size="13" fill="#c8c8c8" text-anchor="middle" font-family="Liberation Sans">»</text></svg>

<div class="rp" style="left:708px;top:366px;color:#f0f0f0;font-weight:bold;font-size:13px">近5日净流入</div>
<div class="rp" style="right:15px;top:366px;color:#f0f0f0;font-weight:bold;font-size:13px">单位(万元)</div>
<!-- bars -->
<div class="a" style="left:721px;top:492px;width:33px;height:24px;background:#1cbc50"></div>
<div class="a" style="left:787px;top:425px;width:33px;height:67px;background:#ff2635"></div>
<div class="a" style="left:853px;top:410px;width:33px;height:81px;background:#ff2635"></div>
<div class="a" style="left:919px;top:477px;width:33px;height:14px;background:#ff2635"></div>
<div class="a" style="left:985px;top:492px;width:33px;height:7px;background:#1cbc50"></div>
<div class="rp" style="left:716px;top:522px;width:44px;text-align:center;color:#20c050;font-size:14px;letter-spacing:0.7px">-3898</div>
<div class="rp" style="left:782px;top:408px;width:44px;text-align:center;color:#f03030;font-size:14px;letter-spacing:0.7px">10822</div>
<div class="rp" style="left:848px;top:393px;width:44px;text-align:center;color:#f03030;font-size:14px;letter-spacing:0.7px">13163</div>
<div class="rp" style="left:914px;top:460px;width:44px;text-align:center;color:#f03030;font-size:14px;letter-spacing:0.7px">2392</div>
<div class="rp" style="left:980px;top:505px;width:44px;text-align:center;color:#20c050;font-size:14px;letter-spacing:0.7px">-1210</div>
<div class="rp" style="left:716px;top:543px;width:44px;text-align:center;color:#b8b8b8;font-size:14px;letter-spacing:0.7px">11-13</div>
<div class="rp" style="left:782px;top:543px;width:44px;text-align:center;color:#b8b8b8;font-size:14px;letter-spacing:0.7px">11-14</div>
<div class="rp" style="left:848px;top:543px;width:44px;text-align:center;color:#b8b8b8;font-size:14px;letter-spacing:0.7px">11-17</div>
<div class="rp" style="left:914px;top:543px;width:44px;text-align:center;color:#b8b8b8;font-size:14px;letter-spacing:0.7px">11-18</div>
<div class="rp" style="left:980px;top:543px;width:44px;text-align:center;color:#b8b8b8;font-size:14px;letter-spacing:0.7px">11-19</div>
<div class="hl" style="left:705px;top:562px;width:330px;background:#3a3c40"></div>
<div class="rp" style="left:713px;top:569px;color:#a8a8a8">天数</div>
<div class="rp" style="right:159px;top:569px;color:#a8a8a8">净流天</div>
<div class="rp" style="right:86px;top:569px;color:#a8a8a8">净流额</div>
<div class="rp" style="right:12px;top:569px;color:#a8a8a8">净流率</div>
<div class="rp" style="left:723px;top:594px;color:#d8d8d8">5</div>
<div class="rp" style="right:159px;top:594px;color:#f03030">3</div>
<div class="rp" style="right:86px;top:594px;color:#f03030">21269</div>
<div class="rp" style="right:12px;top:594px;color:#f03030">7.87%</div>
<div class="rp" style="left:720px;top:617px;color:#d8d8d8">10</div>
<div class="rp" style="right:159px;top:617px;color:#f03030">4</div>
<div class="rp" style="right:86px;top:617px;color:#f03030">5414</div>
<div class="rp" style="right:12px;top:617px;color:#f03030">1.95%</div>
<div class="a" style="left:706px;top:635px;width:42px;height:2px;background:#2a2c30"></div>
<div class="a" style="left:750px;top:635px;width:44px;height:2px;background:#55575e"></div>
</body></html>
